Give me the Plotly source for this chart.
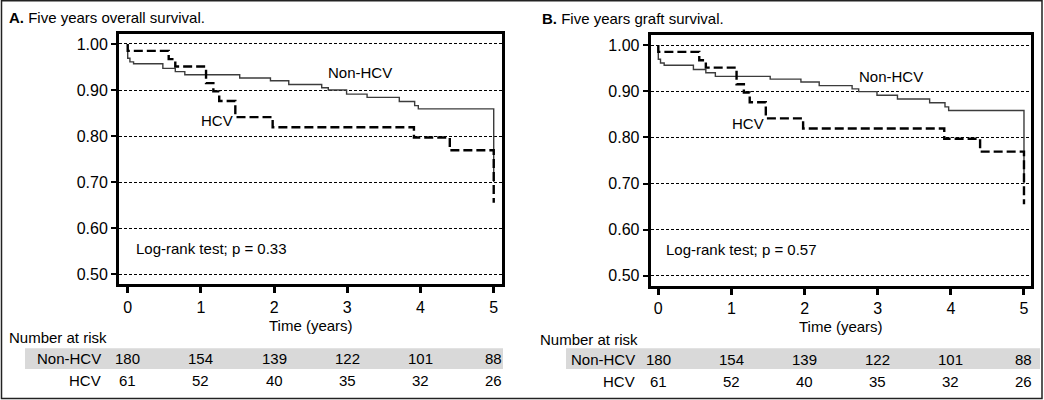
import plotly.graph_objects as go

# ---------------- data ----------------
# Kaplan-Meier steps (time in years, survival after the event)
non_hcv_t = [0, 0, 0.03, 0.08, 0.48, 0.65, 0.78, 1.53, 1.95, 2.20, 2.65, 2.74, 2.99, 3.27, 3.71, 3.92, 3.97, 5.0]
non_hcv_s = [1.0, 0.969, 0.961, 0.957, 0.947, 0.940, 0.933, 0.926, 0.920, 0.912, 0.905, 0.900, 0.891, 0.884, 0.875, 0.866, 0.859, 0.700]
hcv_t = [0, 0, 0.56, 0.65, 1.07, 1.17, 1.25, 1.47, 1.98, 3.91, 4.40, 5.0]
hcv_s = [1.0, 0.985, 0.967, 0.951, 0.915, 0.897, 0.876, 0.841, 0.819, 0.797, 0.769, 0.655]

# graft survival (panel B) – same shape
graft_non_hcv_t = [0, 0, 0.03, 0.08, 0.48, 0.65, 0.78, 1.53, 1.95, 2.20, 2.65, 2.74, 2.99, 3.27, 3.71, 3.92, 3.97, 5.0]
graft_non_hcv_s = [1.0, 0.969, 0.961, 0.956, 0.947, 0.940, 0.932, 0.926, 0.920, 0.912, 0.905, 0.899, 0.891, 0.883, 0.875, 0.866, 0.858, 0.700]
graft_hcv_t = [0, 0, 0.56, 0.65, 1.07, 1.17, 1.25, 1.47, 1.98, 3.91, 4.40, 5.0]
graft_hcv_s = [1.0, 0.985, 0.967, 0.951, 0.915, 0.897, 0.876, 0.841, 0.819, 0.797, 0.769, 0.655]

x_ticks = [0, 1, 2, 3, 4, 5]
y_ticks = [0.5, 0.6, 0.7, 0.8, 0.9, 1.0]
y_ticktext = ["0.50", "0.60", "0.70", "0.80", "0.90", "1.00"]

risk_non_hcv = [180, 154, 139, 122, 101, 88]
risk_hcv = [61, 52, 40, 35, 32, 26]

panel_titles = ["<b>A.</b> Five years overall survival.", "<b>B.</b> Five years graft survival."]
pvalue_texts = ["Log-rank test; p = 0.33", "Log-rank test; p = 0.57"]

# ---------------- figure ----------------
W, H = 1044, 400
FONT = "Liberation Sans, Arial, sans-serif"

def px(x):
    return x / W

def py(y):
    return 1 - y / H

fig = go.Figure()

panels = [
    dict(xd=[px(119), px(501.7)], yd=[py(284.3), py(34.3)], xr=[-0.119, 5.109],
         nt=non_hcv_t, ns=non_hcv_s, ht=hcv_t, hs=hcv_s,
         nonlab=(3.17, 0.937), hcvlab=(1.216, 0.833), plab=(0.09, 0.555),
         title_x=7, title_y=17.5, time_y=325,
         nar_x=6.5, nar_y=337.5, lab_right=103, row1=358.5, row2=380.7,
         band=(25, 503)),
    dict(xd=[px(650.7), px(1031)], yd=[py(286), py(35.3)], xr=[-0.104, 5.096],
         nt=graft_non_hcv_t, ns=graft_non_hcv_s, ht=graft_hcv_t, hs=graft_hcv_s,
         nonlab=(3.18, 0.931), hcvlab=(1.22, 0.829), plab=(0.078, 0.558),
         title_x=540, title_y=18.5, time_y=326.5,
         nar_x=538, nar_y=339.3, lab_right=637, row1=359.3, row2=381.5,
         band=(566, 1040)),
]

annotations = []
shapes = []
layout_axes = {}

for i, p in enumerate(panels):
    xa = "x" if i == 0 else "x2"
    ya = "y" if i == 0 else "y2"
    xname = "xaxis" if i == 0 else "xaxis2"
    yname = "yaxis" if i == 0 else "yaxis2"

    fig.add_trace(go.Scatter(x=p["nt"], y=p["ns"], mode="lines", line_shape="hv",
                             line=dict(color="#3c3c3c", width=1.4),
                             xaxis=xa, yaxis=ya, showlegend=False, hoverinfo="skip"))
    fig.add_trace(go.Scatter(x=p["ht"], y=p["hs"], mode="lines", line_shape="hv",
                             line=dict(color="black", width=2.4, dash="9px,4px"),
                             xaxis=xa, yaxis=ya, showlegend=False, hoverinfo="skip"))

    layout_axes[xname] = dict(domain=p["xd"], range=p["xr"], tickvals=x_ticks,
                              ticks="outside", ticklen=6, tickwidth=2.5, tickcolor="black",
                              showline=True, linewidth=3, linecolor="black", mirror=True,
                              showgrid=False, zeroline=False, anchor=ya,
                              tickfont=dict(family=FONT, size=16, color="black"))
    layout_axes[yname] = dict(domain=p["yd"], range=[0.478, 1.021], tickvals=y_ticks,
                              ticktext=y_ticktext, ticks="outside", ticklen=5, tickwidth=2,
                              tickcolor="black", showline=True, linewidth=3, linecolor="black",
                              mirror=True, showgrid=True, gridcolor="black", gridwidth=1,
                              griddash="3px,2px", zeroline=False, anchor=xa,
                              tickfont=dict(family=FONT, size=16, color="black"))

    f = dict(family=FONT, size=15, color="black")
    annotations += [
        dict(x=p["nonlab"][0], y=p["nonlab"][1], xref=xa, yref=ya, text="Non-HCV",
             showarrow=False, font=f, xanchor="center", yanchor="middle"),
        dict(x=p["hcvlab"][0], y=p["hcvlab"][1], xref=xa, yref=ya, text="HCV",
             showarrow=False, font=f, xanchor="center", yanchor="middle"),
        dict(x=p["plab"][0], y=p["plab"][1], xref=xa, yref=ya, text=pvalue_texts[i],
             showarrow=False, font=f, xanchor="left", yanchor="middle"),
        dict(x=px(p["title_x"]), y=py(p["title_y"]), xref="paper", yref="paper",
             text=panel_titles[i], showarrow=False, font=f, xanchor="left", yanchor="middle"),
        dict(x=2.5, y=py(p["time_y"]), xref=xa, yref="paper", text="Time (years)",
             showarrow=False, font=f, xanchor="center", yanchor="middle"),
        dict(x=px(p["nar_x"]), y=py(p["nar_y"]), xref="paper", yref="paper",
             text="Number at risk", showarrow=False, font=f, xanchor="left", yanchor="middle"),
        dict(x=px(p["lab_right"]), y=py(p["row1"]), xref="paper", yref="paper",
             text="Non-HCV", showarrow=False, font=f, xanchor="right", yanchor="middle"),
        dict(x=px(p["lab_right"]), y=py(p["row2"]), xref="paper", yref="paper",
             text="HCV", showarrow=False, font=f, xanchor="right", yanchor="middle"),
    ]
    for t, a, b in zip(x_ticks, risk_non_hcv, risk_hcv):
        annotations.append(dict(x=t, y=py(p["row1"]), xref=xa, yref="paper", text=str(a),
                                showarrow=False, font=f, xanchor="center", yanchor="middle"))
        annotations.append(dict(x=t, y=py(p["row2"]), xref=xa, yref="paper", text=str(b),
                                showarrow=False, font=f, xanchor="center", yanchor="middle"))

    shapes.append(dict(type="rect", xref="paper", yref="paper",
                       x0=px(p["band"][0]), x1=px(p["band"][1]),
                       y0=py(369), y1=py(348.3), fillcolor="#d9d9d9",
                       line=dict(width=0), layer="below"))

# outer frame
shapes.append(dict(type="rect", xref="paper", yref="paper", x0=px(1.5), x1=px(1042),
                   y0=py(398.5), y1=py(0.8), line=dict(color="#222", width=1.5),
                   fillcolor="rgba(0,0,0,0)"))

fig.update_layout(width=W, height=H, margin=dict(l=0, r=0, t=0, b=0),
                  paper_bgcolor="white", plot_bgcolor="white",
                  annotations=annotations, shapes=shapes,
                  font=dict(family=FONT, size=15, color="black"),
                  **layout_axes)

fig.write_html("out.html", config={"displayModeBar": False},
               post_script="document.body.style.margin='0px';document.body.style.overflow='hidden';")
